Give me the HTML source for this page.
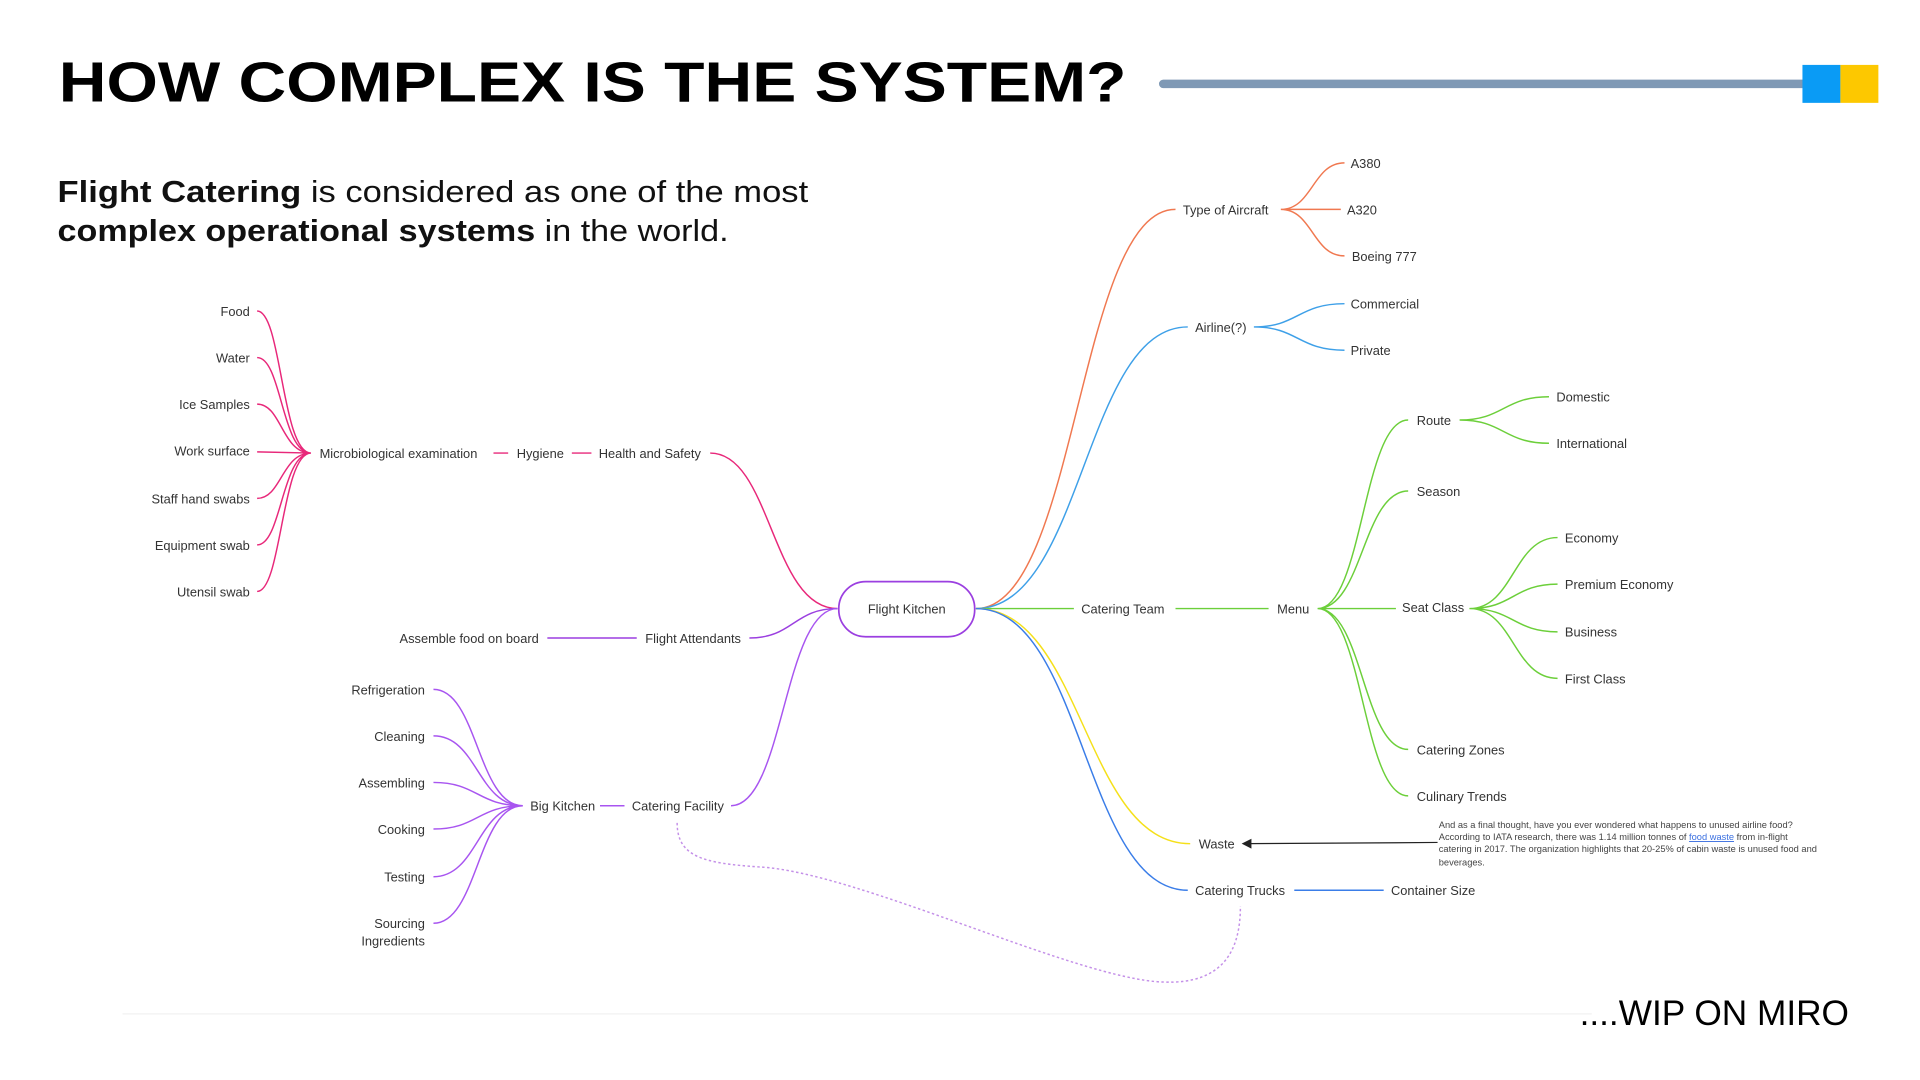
<!DOCTYPE html>
<html><head><meta charset="utf-8"><style>
html,body{margin:0;padding:0;background:#fff;width:1920px;height:1080px;overflow:hidden}
svg{display:block}
text{font-family:"Liberation Sans",sans-serif}
.l{font-size:10.5px;fill:#333}
</style></head><body>
<svg width="1920" height="1080" viewBox="0 0 1568 882" preserveAspectRatio="none" xmlns="http://www.w3.org/2000/svg">
<rect width="1568" height="882" fill="#fff"/>
<!-- header -->
<text x="48" y="83" font-size="46" font-weight="bold" textLength="872" lengthAdjust="spacingAndGlyphs" fill="#000">HOW COMPLEX IS THE SYSTEM?</text>
<line x1="950" y1="68.5" x2="1472" y2="68.5" stroke="#7f99b5" stroke-width="7" stroke-linecap="round"/>
<rect x="1472" y="53" width="31" height="31" fill="#0a9bf5"/>
<rect x="1503" y="53" width="31" height="31" fill="#fdc800"/>
<text x="47" y="165" font-size="25" fill="#111" textLength="613" lengthAdjust="spacingAndGlyphs"><tspan font-weight="bold">Flight Catering</tspan> is considered as one of the most</text>
<text x="47" y="197" font-size="25" fill="#111" textLength="548" lengthAdjust="spacingAndGlyphs"><tspan font-weight="bold">complex operational systems</tspan> in the world.</text>

<g fill="none" stroke-width="1.2">
<!-- right side -->
<path d="M797 497 C880 497 880 171 960 171" stroke="#f07850"/>
<path d="M1046 171 C1072 171 1072 133 1098 133 M1046 171 L1095 171 M1046 171 C1072 171 1072 209 1098 209" stroke="#f07850"/>
<path d="M797 497 C885 497 885 267 970 267" stroke="#3ea0e8"/>
<path d="M1024 267 C1060 267 1060 248 1098 248 M1024 267 C1060 267 1060 286 1098 286" stroke="#3ea0e8"/>
<path d="M797 497 L877 497 M960 497 L1036 497" stroke="#6ccf3a"/>
<path d="M1076 497 C1113 497 1113 343 1150 343 M1076 497 C1113 497 1113 401 1150 401 M1076 497 L1140 497 M1076 497 C1113 497 1113 612 1150 612 M1076 497 C1113 497 1113 650 1150 650" stroke="#6ccf3a"/>
<path d="M1192 343 C1228 343 1228 324 1265 324 M1192 343 C1228 343 1228 362 1265 362" stroke="#6ccf3a"/>
<path d="M1200 497 C1236 497 1236 439 1272 439 M1200 497 C1236 497 1236 477 1272 477 M1200 497 C1236 497 1236 516 1272 516 M1200 497 C1236 497 1236 554 1272 554" stroke="#6ccf3a"/>
<path d="M797 497 C885 497 885 689 972 689" stroke="#f5e01a"/>
<path d="M797 497 C885 497 885 727 970 727" stroke="#3a7de8"/>
<path d="M1057 727 L1130 727" stroke="#3a7de8"/>
<!-- left side -->
<path d="M684 497 C630 497 630 370 580 370" stroke="#e8287a"/>
<path d="M467 370 L483 370 M403 370 L415 370" stroke="#e8287a"/>
<path d="M254 370 C230 370 230 254 210 254 M254 370 C230 370 230 292 210 292 M254 370 C230 370 230 330 210 330 M254 370 L210 369 M254 370 C230 370 230 407 210 407 M254 370 C230 370 230 445 210 445 M254 370 C230 370 230 483 210 483" stroke="#e8287a"/>
<path d="M684 497 C648 497 648 521 612 521 M447 521 L520 521" stroke="#9b3fe0"/>
<path d="M684 497 C640 497 640 658 597 658 M490 658 L510 658" stroke="#a855f0"/>
<path d="M427 658 C390 658 390 563 354 563 M427 658 C390 658 390 601 354 601 M427 658 C390 658 390 639 354 639 M427 658 C390 658 390 677 354 677 M427 658 C390 658 390 716 354 716 M427 658 C390 658 390 754 354 754" stroke="#a855f0"/>
<path d="M553 672 C553 700 575 705 620 708 C700 712 880 800 950 802 C1000 804 1013 775 1013 740" stroke="#c490e8" stroke-dasharray="2,2"/>
</g>
<!-- arrow -->
<line x1="1174" y1="688" x2="1020" y2="689" stroke="#222" stroke-width="1"/>
<path d="M1014 689 L1022 685 L1022 693 Z" fill="#222"/>
<!-- center node -->
<rect x="685" y="475" width="111" height="45" rx="22" fill="#fff" stroke="#9b3fe0" stroke-width="1.4"/>
<text x="740.5" y="501" class="l" text-anchor="middle">Flight Kitchen</text>
<!-- labels right -->
<g class="l">
<text x="966" y="175">Type of Aircraft</text>
<text x="1103" y="137">A380</text>
<text x="1100" y="175">A320</text>
<text x="1104" y="213">Boeing 777</text>
<text x="976" y="271">Airline(?)</text>
<text x="1103" y="252">Commercial</text>
<text x="1103" y="290">Private</text>
<text x="883" y="501">Catering Team</text>
<text x="1043" y="501">Menu</text>
<text x="1157" y="347">Route</text>
<text x="1157" y="405">Season</text>
<text x="1145" y="500">Seat Class</text>
<text x="1157" y="616">Catering Zones</text>
<text x="1157" y="654">Culinary Trends</text>
<text x="1271" y="328">Domestic</text>
<text x="1271" y="366">International</text>
<text x="1278" y="443">Economy</text>
<text x="1278" y="481">Premium Economy</text>
<text x="1278" y="520">Business</text>
<text x="1278" y="558">First Class</text>
<text x="979" y="693">Waste</text>
<text x="976" y="731">Catering Trucks</text>
<text x="1136" y="731">Container Size</text>
</g>
<g font-size="7.6" fill="#444">
<text x="1175" y="676">And as a final thought, have you ever wondered what happens to unused airline food?</text>
<text x="1175" y="686">According to IATA research, there was 1.14 million tonnes of <tspan fill="#3a6fe0" text-decoration="underline">food waste</tspan> from in-flight</text>
<text x="1175" y="696">catering in 2017. The organization highlights that 20-25% of cabin waste is unused food and</text>
<text x="1175" y="707">beverages.</text>
</g>
<!-- labels left -->
<g class="l">
<text x="489" y="374">Health and Safety</text>
<text x="422" y="374">Hygiene</text>
<text x="261" y="374">Microbiological examination</text>
<text x="527" y="525">Flight Attendants</text>
<text x="516" y="662">Catering Facility</text>
<text x="433" y="662">Big Kitchen</text>
</g>
<g class="l" text-anchor="end">
<text x="204" y="258">Food</text>
<text x="204" y="296">Water</text>
<text x="204" y="334">Ice Samples</text>
<text x="204" y="372">Work surface</text>
<text x="204" y="411">Staff hand swabs</text>
<text x="204" y="449">Equipment swab</text>
<text x="204" y="487">Utensil swab</text>
<text x="440" y="525">Assemble food on board</text>
<text x="347" y="567">Refrigeration</text>
<text x="347" y="605">Cleaning</text>
<text x="347" y="643">Assembling</text>
<text x="347" y="681">Cooking</text>
<text x="347" y="720">Testing</text>
<text x="347" y="758">Sourcing</text>
<text x="347" y="772">Ingredients</text>
</g>
<line x1="100" y1="828" x2="1300" y2="828" stroke="#f2f2f2" stroke-width="1"/>
<text x="1290" y="837" font-size="29" fill="#000" textLength="220" lengthAdjust="spacingAndGlyphs">....WIP ON MIRO</text>
</svg>
</body></html>
